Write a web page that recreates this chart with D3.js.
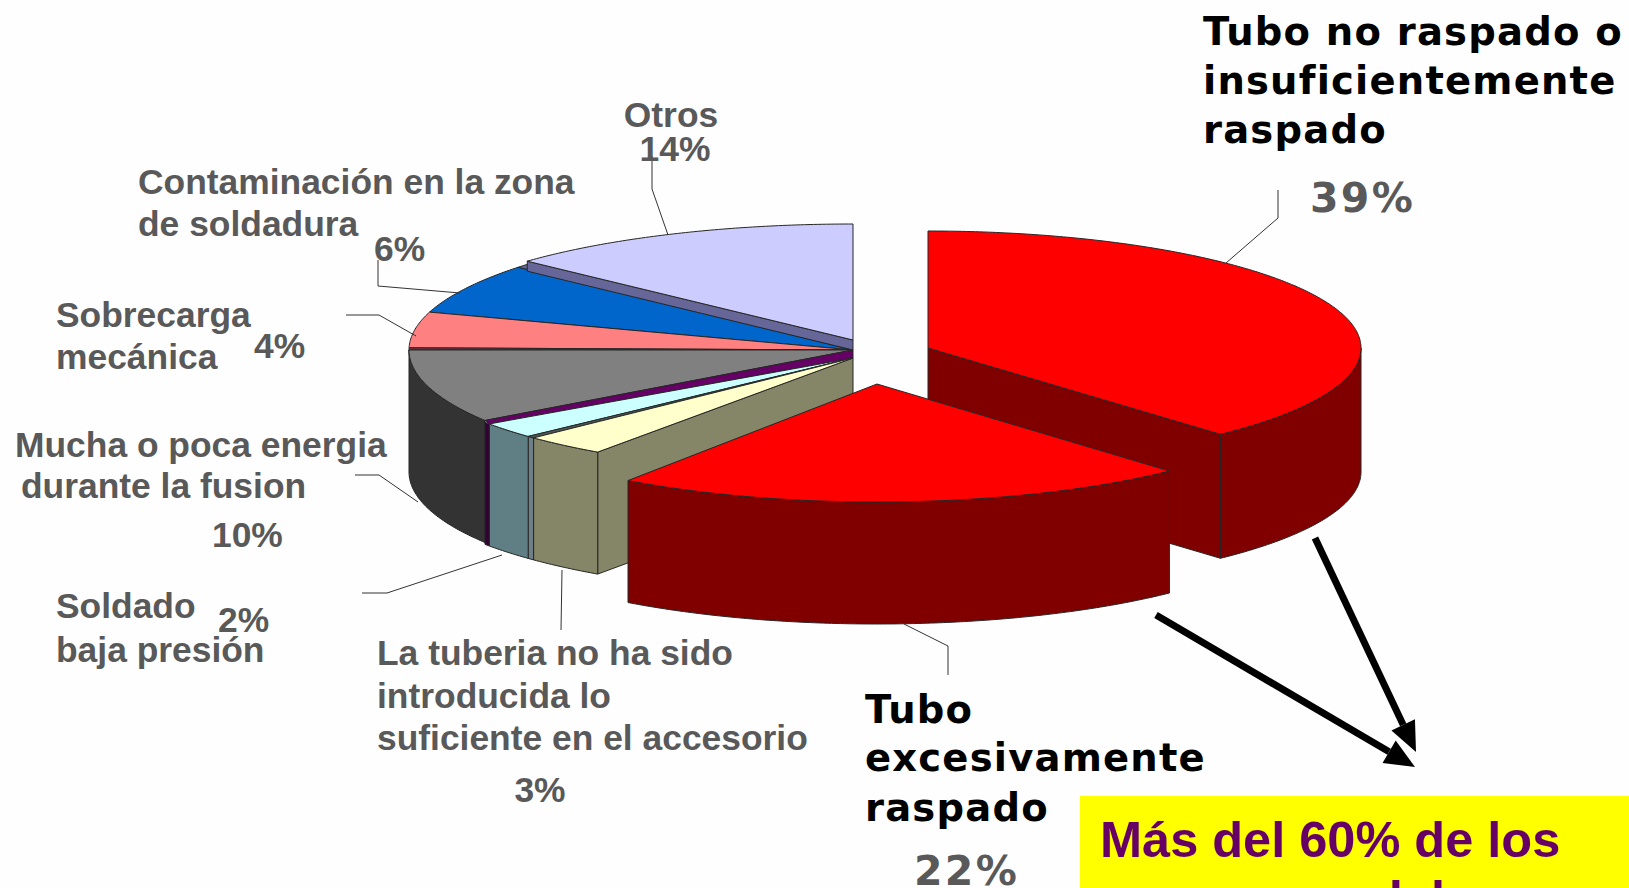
<!DOCTYPE html>
<html><head><meta charset="utf-8">
<script src="https://cdn.jsdelivr.net/npm/d3@7"></script>
<style>html,body{margin:0;padding:0;background:#fff;overflow:hidden}svg{display:block}</style>
</head><body><div id="chart"></div>
<script>
const sliceNames = ["Tubo no raspado","Tubo excesivamente raspado","La tuberia no ha sido introducida","sliver a","Soldado baja presion","sliver b","Mucha o poca energia","sliver c","Sobrecarga mecanica","Contaminacion","sliver d","Otros"];
const sliceValues = [38.2, 21.55, 3.03, 0.28, 2.22, 0.27, 9.45, 0.28, 4.58, 6.53, 0.5, 13.11];
const sliceTop  = ["#ff0000","#ff0000","#ffffcc","#4d5a55","#ccffff","#660066","#808080","#803344","#ff8080","#0066cc","#666699","#ccccff"];
const sliceSide = ["#800000","#800000","#858567","#6f7f88","#5f7f85","#330033","#333333","#4d1a33","#804040","#003366","#333355","#666699"];
const sliceDisc = [1,2,4,4,4,4,0,0,0,0,0,3];
const faceSide  = ["end","none","start","none","none","none","none","none","none","none","none","start"];
const percentLabels = ["39%","22%","3%","2%","10%","4%","6%","14%"];
const W = 1629, H = 888;
const discs = [
  {cx:853, cy:350, rx:444, ry:126, depth:122},
  {cx:928, cy:348, rx:433, ry:117, depth:124},
  {cx:877, cy:384, rx:433, ry:118, depth:122},
  {cx:853, cy:340, rx:444, ry:116, depth:10},
  {cx:853, cy:358, rx:444, ry:115, depth:122}
];
const svg = d3.select("#chart").append("svg").attr("width",W).attr("height",H);
svg.append("rect").attr("width",W).attr("height",H).attr("fill","#fefefe");

const arcs = d3.pie().sort(null).value(d=>d)(sliceValues);
const rim = (disc,a,dy=0)=>[disc.cx+disc.rx*Math.sin(a), disc.cy-disc.ry*Math.cos(a)+dy];
const line = d3.line();
const sample = (a0,a1)=>{const n=Math.max(2,Math.ceil((a1-a0)/0.01));return d3.range(n+1).map(i=>a0+(a1-a0)*i/n);};

function poly(pts,fill){
  svg.append("path").attr("d",line(pts)+"Z").attr("fill",fill)
    .attr("stroke","#262626").attr("stroke-width",1).attr("stroke-linejoin","round");
}
const order = [0,3,4,1,2];
order.forEach(di=>{
  const disc = discs[di], depth = disc.depth;
  const members = arcs.map((a,i)=>({a,i})).filter(o=>sliceDisc[o.i]===di);
  // radial faces
  members.forEach(({a,i})=>{
    if(faceSide[i]==="none") return;
    const ang = faceSide[i]==="end"?a.endAngle:a.startAngle;
    const r = rim(disc,ang);
    poly([[disc.cx,disc.cy],r,[r[0],r[1]+depth],[disc.cx,disc.cy+depth]],sliceSide[i]);
  });
  // outer walls (front half only)
  members.forEach(({a,i})=>{
    const lo=Math.max(a.startAngle,Math.PI/2), hi=Math.min(a.endAngle,3*Math.PI/2);
    if(hi<=lo) return;
    const angs=sample(lo,hi);
    poly(angs.map(t=>rim(disc,t)).concat(angs.slice().reverse().map(t=>rim(disc,t,depth))),sliceSide[i]);
  });
  // top faces
  members.slice().reverse().forEach(({a,i})=>{
    if(i===5){ // thin sliver bridging the gray slice and the front slices
      poly([[discs[0].cx,discs[0].cy],rim(discs[0],a.endAngle),rim(disc,a.startAngle),[disc.cx,disc.cy]],sliceTop[i]);
      return;
    }
    poly([[disc.cx,disc.cy]].concat(sample(a.startAngle,a.endAngle).map(t=>rim(disc,t))),sliceTop[i]);
  });
});

// leader lines
const leaderPaths = [
  [[1226,263],[1278,218],[1278,190]],
  [[904,624],[948,646],[948,675]],
  [[562,570],[561,630]],
  [[502,555],[387,593],[362,593]],
  [[418,502],[379,475],[355,475]],
  [[416,336],[379,315],[346,315]],
  [[460,293],[378,286],[378,260]],
  [[668,235],[652,189],[652,156]]
];
leaderPaths.forEach(p=>svg.append("path").attr("d",line(p)).attr("fill","none").attr("stroke","#333").attr("stroke-width",1));

// arrows
const arrows = [[[1156,615],[1415,767]],[[1315,538],[1416,752]]];
arrows.forEach(([s,e])=>{
  const ang=Math.atan2(e[1]-s[1],e[0]-s[0]), L=30, Wd=13;
  const b=[e[0]-L*Math.cos(ang),e[1]-L*Math.sin(ang)];
  svg.append("path").attr("d",line([s,b])).attr("stroke","#000").attr("stroke-width",7).attr("fill","none");
  svg.append("path").attr("d",line([e,[b[0]-Wd*Math.sin(ang),b[1]+Wd*Math.cos(ang)],[b[0]+Wd*Math.sin(ang),b[1]-Wd*Math.cos(ang)]])+"Z").attr("fill","#000");
});

// yellow call-out
svg.append("rect").attr("x",1080).attr("y",796).attr("width",W-1080).attr("height",H-796).attr("fill","#ffff00");

const grey="#595959", sans="'Liberation Sans',Arial,sans-serif", vera="'DejaVu Sans',Verdana,sans-serif";
const labels = [
  ["Otros",671,127,35.4,grey,sans,"middle",0],
  [percentLabels[7],675,161,35.4,grey,sans,"middle",0],
  ["Contaminación en la zona",138,194,35.4,grey,sans,"start",0],
  ["de soldadura",138,236,35.4,grey,sans,"start",0],
  [percentLabels[6],374,261,35.4,grey,sans,"start",0],
  ["Sobrecarga",56,327,35.4,grey,sans,"start",0],
  ["mecánica",56,369,35.4,grey,sans,"start",0],
  [percentLabels[5],254,358,35.4,grey,sans,"start",0],
  ["Mucha o poca energia",15,457,35.4,grey,sans,"start",0],
  ["durante la fusion",21,498,35.4,grey,sans,"start",0],
  [percentLabels[4],212,547,35.4,grey,sans,"start",0],
  ["Soldado",56,618,35.4,grey,sans,"start",0],
  ["baja presión",56,662,35.4,grey,sans,"start",0],
  [percentLabels[3],218,632,35.4,grey,sans,"start",0],
  ["La tuberia no ha sido",377,665,35.4,grey,sans,"start",0],
  ["introducida lo",377,708,35.4,grey,sans,"start",0],
  ["suficiente en el accesorio",377,750,35.4,grey,sans,"start",0],
  [percentLabels[2],540,802,35.4,grey,sans,"middle",0],
  ["Tubo no raspado o",1203,45,38.5,"#000",vera,"start",1.2],
  ["insuficientemente",1203,94,38.5,"#000",vera,"start",1.2],
  ["raspado",1203,143,38.5,"#000",vera,"start",1.2],
  [percentLabels[0],1310,212,41,grey,vera,"start",2.3],
  ["Tubo",865,723,38.5,"#000",vera,"start",1.2],
  ["excesivamente",865,771,38.5,"#000",vera,"start",1.2],
  ["raspado",865,821,38.5,"#000",vera,"start",1.2],
  [percentLabels[1],914,885,41,grey,vera,"start",2.3],
  ["Más del 60% de los",1100,857,50.5,"#660066",sans,"start",0],
  ["del",1372,916,50.5,"#660066",sans,"start",0]
];
svg.selectAll("text.lbl").data(labels).join("text").attr("class","lbl")
  .attr("x",d=>d[1]).attr("y",d=>d[2]).attr("font-size",d=>d[3]).attr("fill",d=>d[4])
  .attr("font-family",d=>d[5]).attr("text-anchor",d=>d[6]).attr("letter-spacing",d=>d[7]).attr("font-weight","bold").text(d=>d[0]);
</script></body></html>
